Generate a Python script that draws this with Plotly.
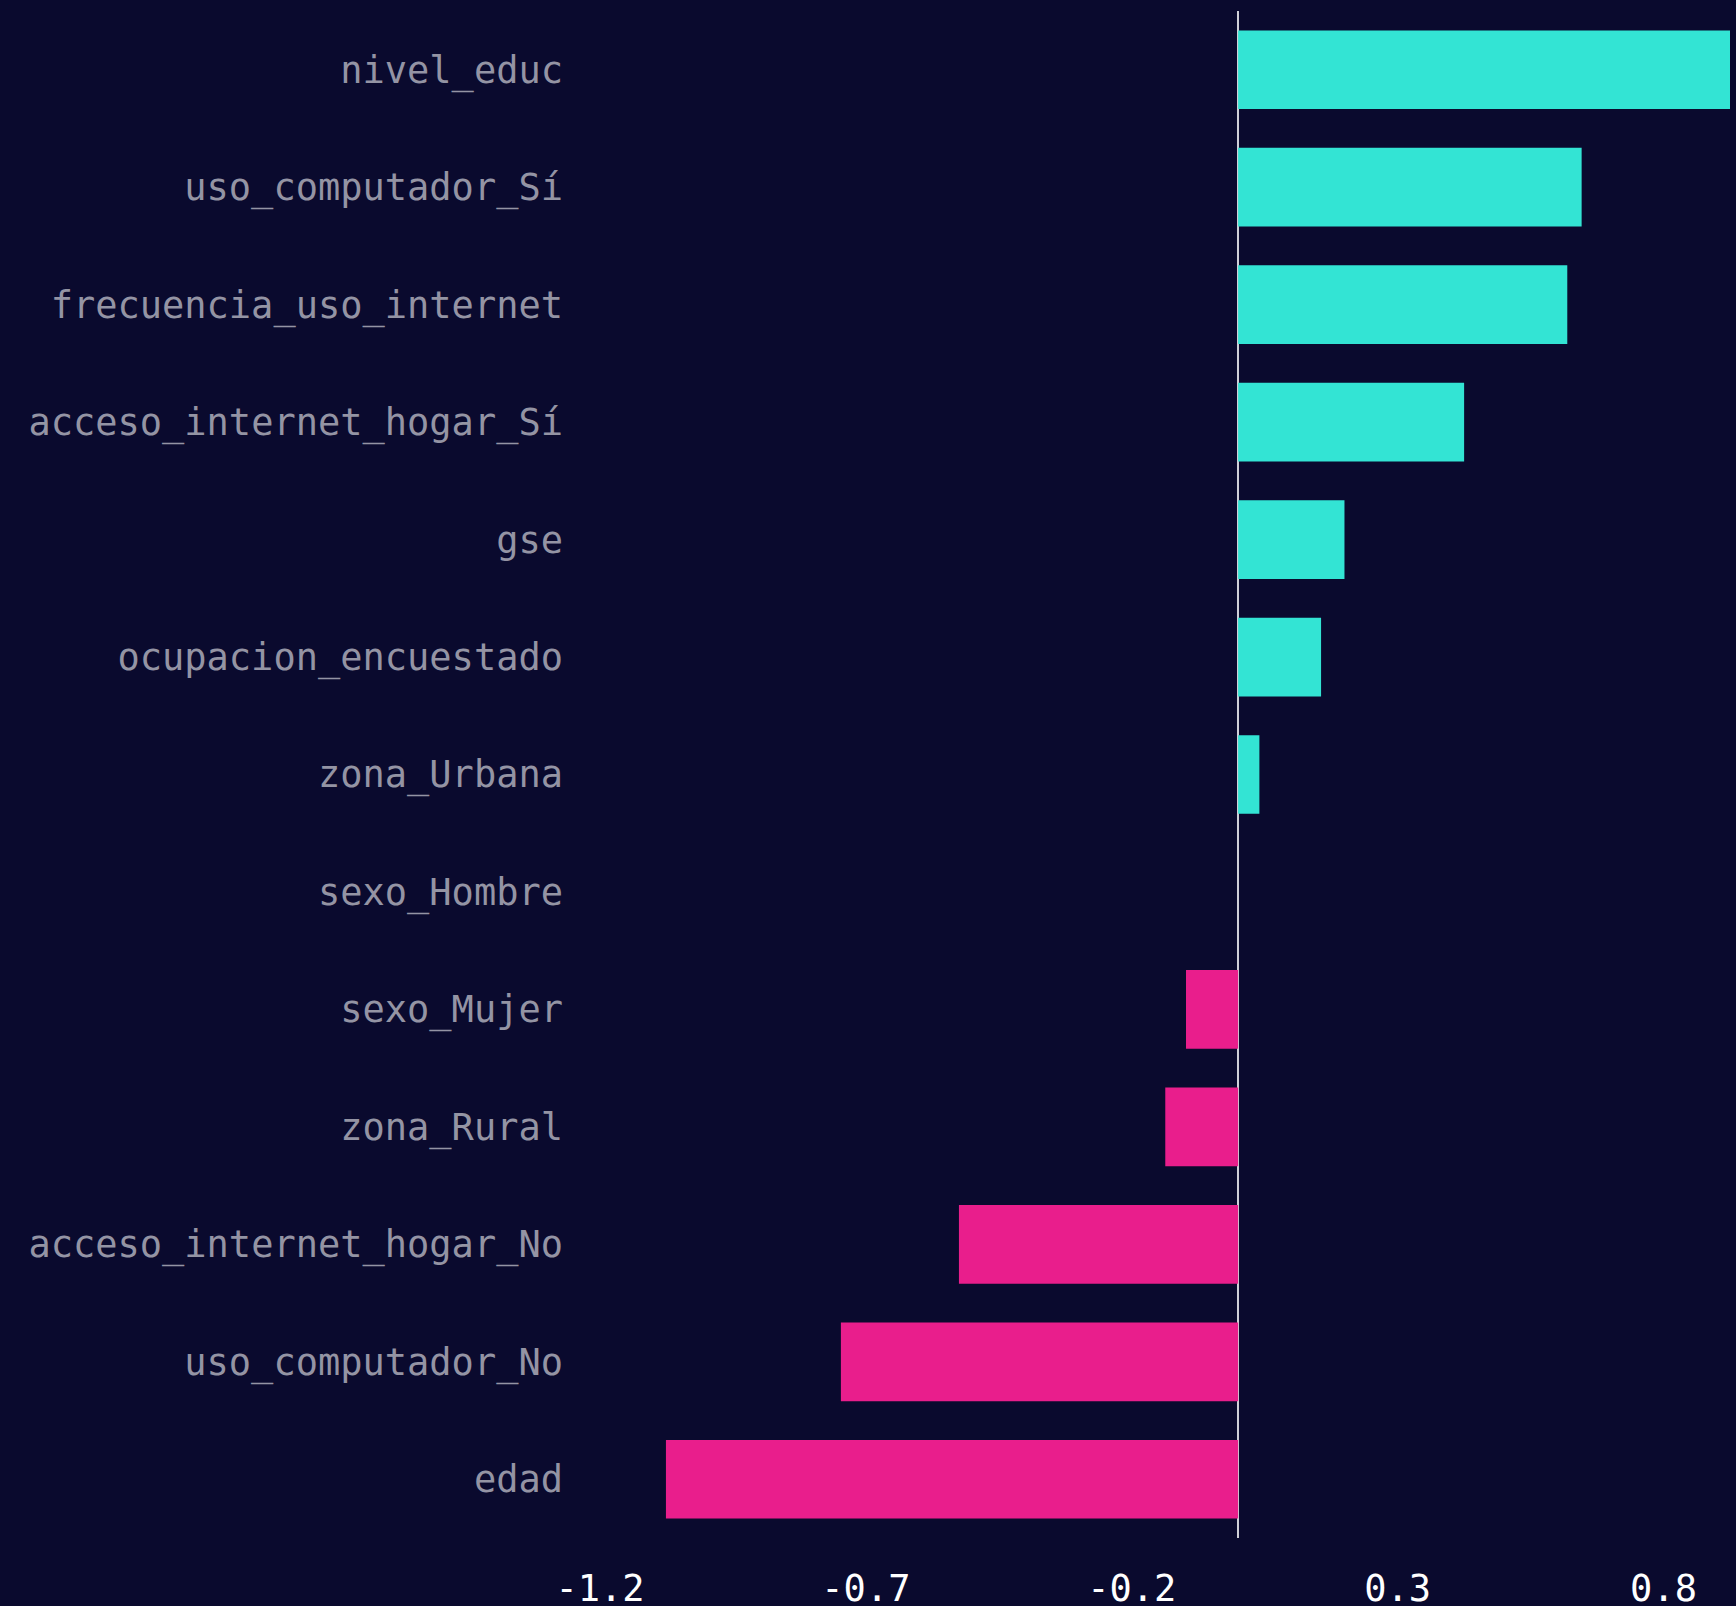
import plotly.graph_objects as go

features = [
    "nivel_educ", "uso_computador_Sí", "frecuencia_uso_internet",
    "acceso_internet_hogar_Sí", "gse", "ocupacion_encuestado", "zona_Urbana",
    "sexo_Hombre", "sexo_Mujer", "zona_Rural", "acceso_internet_hogar_No",
    "uso_computador_No", "edad",
]
coefs = [0.925, 0.646, 0.619, 0.425, 0.20, 0.156, 0.04,
         0.0, -0.098, -0.137, -0.525, -0.747, -1.076]
tick_vals = [-1.2, -0.7, -0.2, 0.3, 0.8]
tick_text = ["-1.2", "-0.7", "-0.2", "0.3", "0.8"]

POS = "#33e4d4"
NEG = "#e91e8c"
BG = "#0a0a2e"
colors = [POS if v > 0 else NEG for v in coefs]

fig = go.Figure(go.Bar(
    x=coefs, y=features, orientation="h",
    marker=dict(color=colors, line=dict(width=0)),
))

fig.update_layout(
    width=1736, height=1606,
    paper_bgcolor=BG, plot_bgcolor=BG,
    margin=dict(l=600, r=6, t=11, b=68),
    bargap=0.33,
    showlegend=False,
    font=dict(family="DejaVu Sans Mono"),
)
fig.update_xaxes(
    range=[-1.2, 0.925],
    tickvals=tick_vals, ticktext=tick_text,
    tickfont=dict(size=37, color="#ffffff", family="DejaVu Sans Mono"),
    showgrid=False, zeroline=True, zerolinecolor="#d0d0d8", zerolinewidth=2,
    showline=False, ticks="", ticklabelstandoff=25, automargin=False,
)
fig.update_yaxes(
    autorange="reversed",
    tickfont=dict(size=37, color="#9494a4", family="DejaVu Sans Mono"),
    showgrid=False, zeroline=False, showline=False, ticks="",
    ticklabelstandoff=36, automargin=False,
)

fig.write_html(
    "out.html",
    config={"displayModeBar": False},
    post_script="document.body.style.margin='0';document.body.style.background='%s';" % BG,
)
